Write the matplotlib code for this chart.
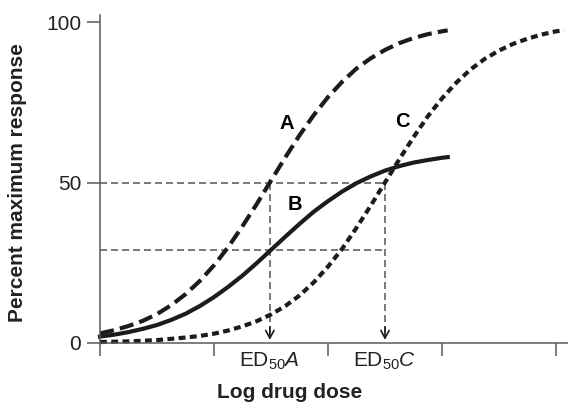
import matplotlib
matplotlib.use("Agg")
import matplotlib.pyplot as plt

plt.rcParams["font.family"] = ["Liberation Sans", "DejaVu Sans"]
plt.rcParams["mathtext.fontset"] = "custom"
plt.rcParams["mathtext.rm"] = "Liberation Sans"
plt.rcParams["mathtext.it"] = "Liberation Sans:italic"
plt.rcParams["mathtext.bf"] = "Liberation Sans:bold"

# Log dose positions and responses (% of maximum) for the three agonists
dose_ab = [0.0, 0.125, 0.25, 0.375, 0.5, 0.625, 0.75, 0.875, 1.0, 1.125, 1.25,
           1.375, 1.5, 1.625, 1.75, 1.875, 2.0, 2.125, 2.25, 2.375, 2.5, 2.625,
           2.75, 2.875, 3.0, 3.05]
resp_a = [3.0, 4.0, 5.3, 6.9, 9.0, 11.8, 15.2, 19.3, 24.2, 29.9, 36.4,
          43.3, 50.6, 57.8, 64.7, 71.0, 76.6, 81.4, 85.5, 88.7, 91.3, 93.4,
          95.0, 96.2, 97.1, 97.4]
resp_b = [2.0, 2.6, 3.4, 4.4, 5.6, 7.2, 9.1, 11.5, 14.3, 17.5, 21.0,
          24.9, 29.0, 33.1, 37.1, 40.9, 44.2, 47.2, 49.8, 51.9, 53.7, 55.1,
          56.2, 57.0, 57.7, 57.9]

dose_c = [0.0, 0.125, 0.25, 0.375, 0.5, 0.625, 0.75, 0.875, 1.0, 1.125, 1.25,
          1.375, 1.5, 1.625, 1.75, 1.875, 2.0, 2.125, 2.25, 2.375, 2.5, 2.625,
          2.75, 2.875, 3.0, 3.125, 3.25, 3.375, 3.5, 3.625, 3.75, 3.875, 4.0, 4.07]
resp_c = [0.3, 0.4, 0.5, 0.7, 0.9, 1.3, 1.7, 2.2, 2.9, 3.9, 5.2,
          6.8, 8.9, 11.5, 14.8, 18.9, 23.8, 29.4, 35.9, 42.8, 50.0, 57.2,
          64.1, 70.6, 76.2, 81.1, 85.2, 88.5, 91.1, 93.2, 94.8, 96.1, 97.1, 97.4]

ed50_a = 1.49
ed50_c = 2.50
half_max = 50
b_at_ed50_a = 29

y_ticks = [0, 50, 100]
x_ticks = [0, 1, 2, 3, 4]

W, H = 568, 407
fig = plt.figure(figsize=(W / 100, H / 100), dpi=100)
x0, x_end, y0, y_top = 100, 568, 343, 15
ax = fig.add_axes([x0 / W, (H - y0) / H, (x_end - x0) / W, (y0 - y_top) / H])

px_per_x = 114.0
px_per_y = 3.21
ax.set_xlim(0, (x_end - x0) / px_per_x)
ax.set_ylim(0, (y0 - y_top) / px_per_y)

ink = "#1c1c1c"
guide = "#555555"
axis_col = "#5a5a5a"

# Guide lines for the ED50 read-offs
ax.plot([0, ed50_c], [half_max, half_max], color=guide, lw=1.1, dashes=(4.6, 2.6))
ax.plot([0, ed50_c], [b_at_ed50_a, b_at_ed50_a], color=guide, lw=1.1, dashes=(4.6, 2.6))
for xe in (ed50_a, ed50_c):
    ax.plot([xe, xe], [half_max, 2.0], color=guide, lw=1.1, dashes=(4.6, 2.6))
    ax.annotate("", xy=(xe, 1.0), xytext=(xe, 5.0),
                arrowprops=dict(arrowstyle="->,head_length=0.55,head_width=0.3",
                                color=ink, lw=1.2, shrinkA=0, shrinkB=0))

# Dose-response curves
ax.plot(dose_ab, resp_a, color=ink, lw=3.0, dashes=(3.4, 1.5),
        solid_joinstyle="round", clip_on=False)
ax.plot(dose_ab, resp_b, color=ink, lw=3.0, solid_joinstyle="round", clip_on=False)
ax.plot(dose_c, resp_c, color=ink, lw=3.0, dashes=(1.65, 1.05), clip_on=False)

ax.text(1.64, 68.4, "A", fontsize=14.5, fontweight="bold", ha="center", va="center")
ax.text(1.71, 43.3, "B", fontsize=14.5, fontweight="bold", ha="center", va="center")
ax.text(2.65, 69.0, "C", fontsize=14.5, fontweight="bold", ha="center", va="center")

# Axes styling
for side in ("top", "right"):
    ax.spines[side].set_visible(False)
for side in ("left", "bottom"):
    ax.spines[side].set_color(axis_col)
    ax.spines[side].set_linewidth(1.1)

ax.set_yticks(y_ticks)
ax.set_yticklabels([str(v) for v in y_ticks], fontsize=15, color="#222222")
ax.set_xticks(x_ticks)
ax.set_xticklabels([])
ax.tick_params(axis="both", direction="out", length=9.5, width=1.1, color=axis_col)
ax.tick_params(axis="y", pad=4)

for xe, name in ((ed50_a, "A"), (ed50_c, "C")):
    ax.text(xe, -2.3, "ED$_{50}" + name + "$", fontsize=15, ha="center", va="top",
            color="#222222")

fig.text(290 / W, 1 - 392 / H, "Log drug dose", fontsize=15, fontweight="bold",
         ha="center", va="center", color="#222222")
fig.text(18 / W, 1 - 183 / H, "Percent maximum response", fontsize=15,
         fontweight="bold", rotation=90, ha="center", va="center", color="#222222")

fig.savefig("out.png", dpi=100)
